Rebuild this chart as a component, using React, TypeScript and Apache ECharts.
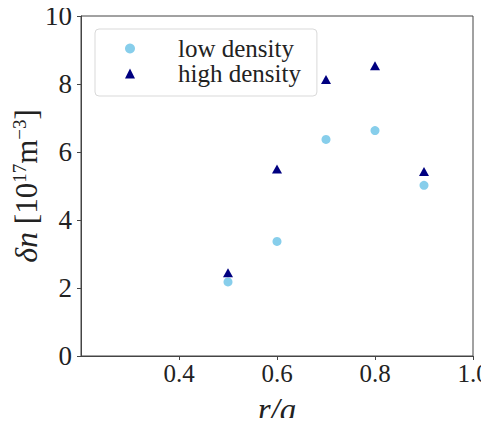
import React, { useEffect, useRef } from "react";
import * as echarts from "echarts";

const radius = [0.5, 0.6, 0.7, 0.8, 0.9];
const lowDensity = [2.18, 3.37, 6.37, 6.63, 5.02];
const highDensity = [2.45, 5.5, 8.13, 8.54, 5.43];
const xTicks = [0.4, 0.6, 0.8, 1.0];
const seriesNames = ["low density", "high density"];
const xTitle = "r/a";
const yTitle = "{i|δn} {m|[10}{s|17}{m|m}{s|−3}{m|]}";

const FONT = "Liberation Serif";

export default function App() {
  const ref = useRef<HTMLDivElement>(null);
  useEffect(() => {
    if (!ref.current) return;
    const chart = echarts.init(ref.current, undefined, { renderer: "svg" });
    chart.setOption({
      animation: false,
      grid: {
        left: 81,
        top: 16,
        right: 16,
        bottom: 70,
        show: true,
        borderColor: "#444",
        borderWidth: 1,
        outerBoundsMode: "none",
      },
      graphic: [
        {
          type: "text",
          x: 277,
          y: 410,
          style: {
            text: xTitle,
            fontFamily: FONT,
            fontStyle: "italic",
            fontSize: 33,
            fill: "#222",
            align: "center",
            verticalAlign: "middle",
          },
        },
        {
          type: "text",
          x: 26,
          y: 186,
          rotation: Math.PI / 2,
          style: {
            text: yTitle,
            fontFamily: FONT,
            fontSize: 31,
            lineHeight: 32,
            fill: "#222",
            align: "center",
            verticalAlign: "middle",
            rich: {
              i: { fontFamily: FONT, fontStyle: "italic", fontSize: 32, lineHeight: 32, fill: "#222" },
              m: { fontFamily: FONT, fontSize: 31, lineHeight: 32, fill: "#222" },
              s: { fontFamily: FONT, fontSize: 19, lineHeight: 19, fill: "#222", verticalAlign: "top" },
            },
          },
        },
      ],
      legend: {
        orient: "vertical",
        left: 95,
        top: 29,
        padding: [7, 16, 10, 30],
        itemWidth: 10,
        itemHeight: 10,
        itemGap: 0,
        borderColor: "#d9d9d9",
        borderWidth: 1,
        borderRadius: 4,
        backgroundColor: "#fff",
        textStyle: {
          fontFamily: FONT,
          fontSize: 25,
          color: "#222",
          lineHeight: 25,
          padding: [0, 0, 0, 38],
        },
        data: [
          { name: seriesNames[0], icon: "circle" },
          { name: seriesNames[1], icon: "triangle" },
        ],
      },
      xAxis: {
        type: "value",
        min: 0.2,
        max: 1.0,
        interval: 0.2,
        splitLine: { show: false },
        axisLine: { lineStyle: { color: "#444" } },
        axisTick: {
          show: true,
          length: 4,
          lineStyle: { color: "#444" },
          customValues: xTicks,
        },
        axisLabel: {
          fontFamily: FONT,
          fontSize: 25,
          color: "#222",
          margin: 5,
          customValues: xTicks,
          formatter: (v: number) => v.toFixed(1),
        },
      },
      yAxis: {
        type: "value",
        min: 0,
        max: 10,
        interval: 2,
        splitLine: { show: false },
        axisLine: { show: true, lineStyle: { color: "#444" } },
        axisTick: { show: true, length: 4, lineStyle: { color: "#444" } },
        axisLabel: {
          fontFamily: FONT,
          fontSize: 27,
          color: "#222",
          margin: 9,
        },
      },
      series: [
        {
          name: seriesNames[0],
          type: "scatter",
          symbol: "circle",
          symbolSize: 9,
          itemStyle: { color: "#87CEEB", opacity: 1 },
          data: radius.map((r, i) => [r, lowDensity[i]]),
        },
        {
          name: seriesNames[1],
          type: "scatter",
          symbol: "triangle",
          symbolSize: [10, 9],
          itemStyle: { color: "#000080", opacity: 1 },
          data: radius.map((r, i) => [r, highDensity[i]]),
        },
      ],
    });
    return () => chart.dispose();
  }, []);
  return <div ref={ref} style={{ width: 489, height: 426, margin: -8 }} />;
}
